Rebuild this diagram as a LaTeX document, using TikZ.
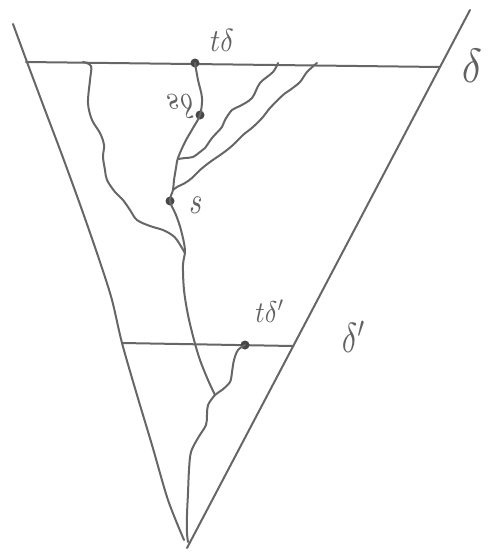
\documentclass[tikz,border=0pt]{standalone}
\begin{document}
\begin{tikzpicture}[x=1pt,y=-1pt,
  ln/.style={draw=black!60, line width=2pt, line cap=round, line join=round},
  dotst/.style={circle, fill=black!72, inner sep=0pt, minimum size=9pt},
  lbl/.style={text=black!62, inner sep=0pt}]
\useasboundingbox (0,0) rectangle (496,552);
% key points
\coordinate (Rtop) at (470,10);
\coordinate (Rbot) at (187,548);
\coordinate (T1) at (26,62);
\coordinate (T2) at (440,67);
\coordinate (B1) at (122,343);
\coordinate (B2) at (293,346);
% triangle sides
\draw[ln] plot[smooth, tension=0.5] coordinates {(13,24) (27,62) (45,110) (62,155) (82,210) (100,262) (112,300) (122,343) (137,395) (152,445) (168,500) (184,540)};
\draw[ln] (Rtop) -- (Rbot);
% horizontals
\draw[ln] (T1) -- (T2);
\draw[ln] (B1) -- (B2);
% dots
\node[dotst] (td) at (195,63) {};
\node[dotst] (sd) at (200,115) {};
\node[dotst] (s) at (170,201) {};
\node[dotst] (tdp) at (245,345) {};
% wiggly paths
\draw[ln] plot[smooth, tension=0.55] coordinates {(83,62) (91,66) (90,80) (88,103) (92,120) (100,133) (104,145) (103,157) (105,170) (107,180) (115,192) (123,200) (130,210) (137,220) (150,226) (163,230) (172,235) (177,240) (185,253)};
\draw[ln] plot[smooth, tension=0.55] coordinates {(195,63) (198,80) (202,98) (200,115) (193,128) (185,142) (178,158) (176,168) (174,180) (173,190) (170,201) (176,215) (181,230) (185,250) (183,265) (184,290) (188,315) (194,340) (200,360) (208,380) (215,395)};
\draw[ln] plot[smooth, tension=0.55] coordinates {(278,63) (273,72) (260,83) (252,98) (240,106) (232,110) (225,120) (222,127) (212,138) (205,148) (200,152) (193,157) (185,158) (178,159)};
\draw[ln] plot[smooth, tension=0.55] coordinates {(317,63) (307,72) (300,82) (290,90) (283,95) (270,108) (263,117) (253,127) (243,135) (233,145) (223,153) (210,162) (200,170) (192,178) (185,183) (177,187) (173,190)};
\draw[ln] plot[smooth, tension=0.55] coordinates {(245,345) (238,350) (234,360) (232,372) (230,382) (222,390) (215,395) (208,405) (207,415) (206,425) (198,438) (191,452) (189,470) (188,493) (187,515) (187,533) (188,542)};
% labels
\node[lbl] (ltd) at (222,40) {\scalebox{2.8}[3.2]{$t\delta$}};
\node[lbl] (lsd) at (180,106) {\scalebox{3}[-3.4]{$s\delta$}};
\node[lbl] (ls) at (196,205) {\scalebox{2.8}[3.8]{$s$}};
\node[lbl] (ltdp) at (270,311) {\scalebox{2.6}[3]{$t\delta'$}};
\node[lbl] (ldp) at (354,337) {\scalebox{3.2}[4.2]{$\delta'$}};
\node[lbl] (ld) at (472,66) {\scalebox{4.2}[4.8]{$\delta$}};
\end{tikzpicture}
\end{document}
